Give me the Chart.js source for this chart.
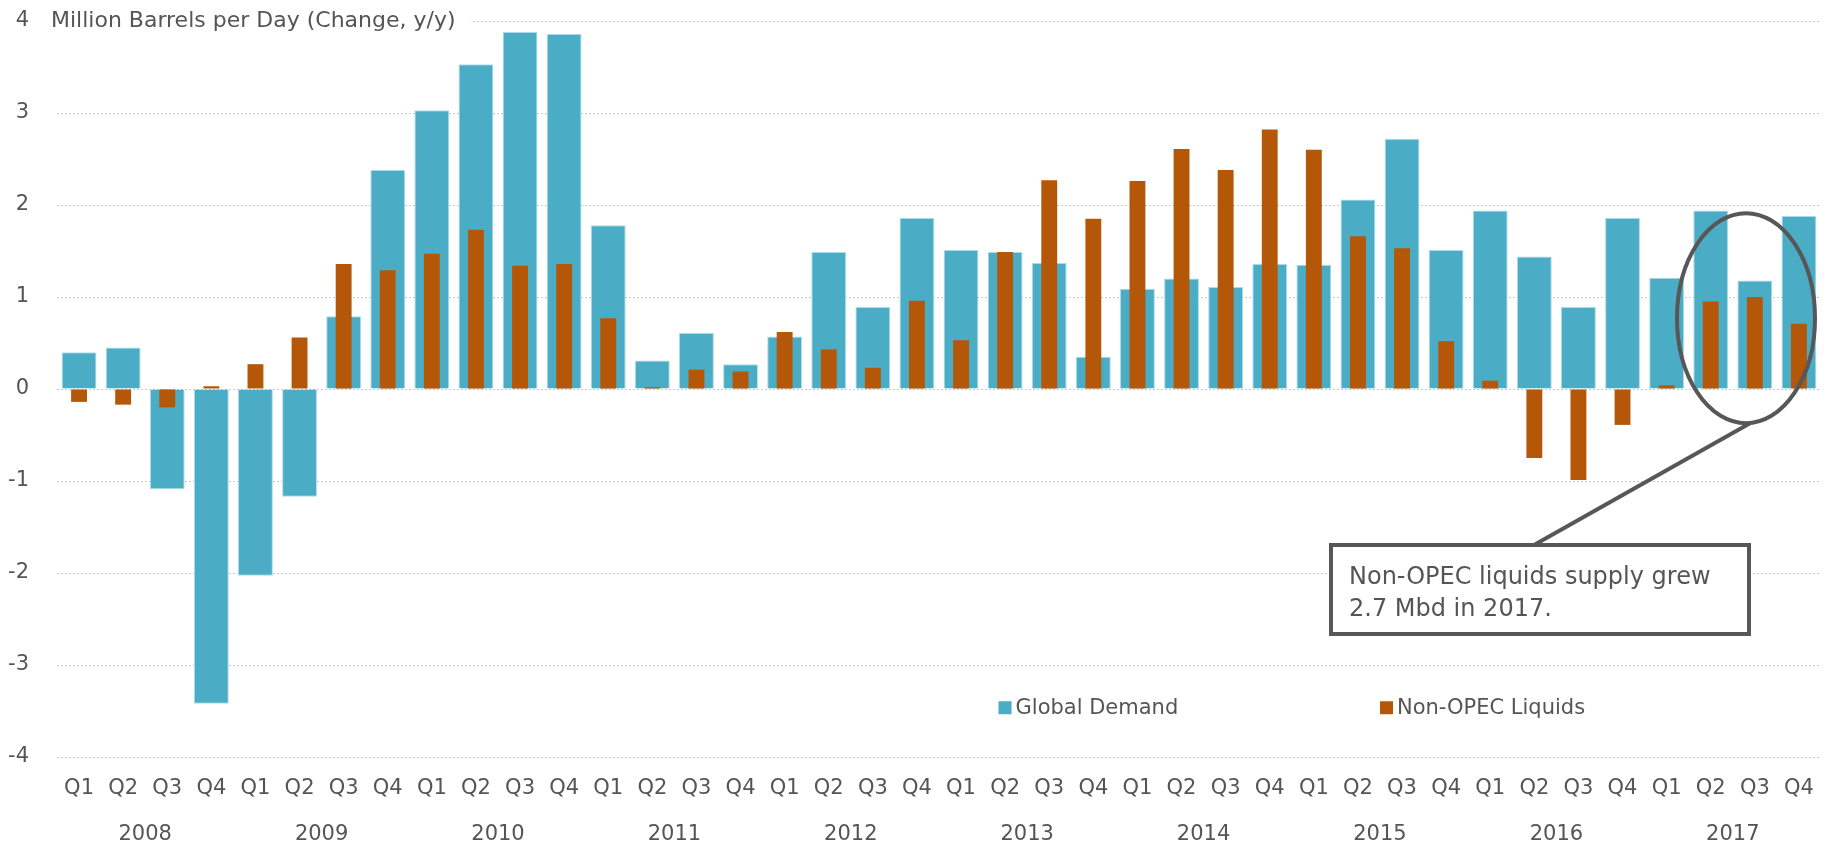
<!DOCTYPE html>
<html>
<head>
<meta charset="utf-8">
<script src="https://cdn.jsdelivr.net/npm/chart.js@4.4.1/dist/chart.umd.min.js"></script>
<style>
    html, body { margin: 0; padding: 0; background: #fff; }
    #wrap { width: 1833px; height: 845px; position: relative; }
</style>
</head>
<body>
<div id="wrap"><canvas id="chart_canva"></canvas></div>
<script>
// ----- data -----
const years = ['2008', '2009', '2010', '2011', '2012', '2013', '2014', '2015', '2016', '2017'];
const quarters = ['Q1', 'Q2', 'Q3', 'Q4'];
const quarter_labels = years.flatMap(y => quarters);

const global_demand = [
    0.40, 0.45, -1.09, -3.42,
    -2.03, -1.17, 0.79, 2.38,
    3.03, 3.53, 3.88, 3.86,
    1.78, 0.31, 0.61, 0.27,
    0.57, 1.49, 0.89, 1.86,
    1.51, 1.49, 1.37, 0.35,
    1.09, 1.20, 1.11, 1.36,
    1.35, 2.06, 2.72, 1.51,
    1.94, 1.44, 0.89, 1.86,
    1.21, 1.94, 1.18, 1.88
];
const non_opec = [
    -0.14, -0.17, -0.20, 0.03,
    0.27, 0.56, 1.36, 1.29,
    1.47, 1.73, 1.34, 1.36,
    0.77, 0.02, 0.21, 0.19,
    0.62, 0.43, 0.23, 0.96,
    0.53, 1.49, 2.27, 1.85,
    2.26, 2.61, 2.38, 2.82,
    2.60, 1.66, 1.53, 0.52,
    0.09, -0.75, -0.99, -0.39,
    0.04, 0.95, 1.00, 0.71
];

const axis_title = 'Million Barrels per Day (Change, y/y)';
const note_lines = ['Non-OPEC liquids supply grew', '2.7 Mbd in 2017.'];

const blue = 'rgb(75, 172, 198)';
const orange = 'rgb(181, 87, 8)';
const text_grey = '#555555';
const font_family = '"DejaVu Sans", sans-serif';

// ----- extras drawn on top: axis title, legend, callout -----
const extras = {
    id: 'extras',
    afterDraw(chart) {
        const ctx = chart.ctx;
        const x = chart.scales.x;
        const y = chart.scales.y;
        ctx.save();

        // axis title next to the "4" tick
        ctx.font = '22px ' + font_family;
        ctx.textBaseline = 'middle';
        ctx.textAlign = 'left';
        const tw = ctx.measureText(axis_title).width;
        ctx.fillStyle = '#fff';
        ctx.fillRect(46, y.getPixelForValue(4) - 14, tw + 20, 28);
        ctx.fillStyle = text_grey;
        ctx.fillText(axis_title, 51, y.getPixelForValue(4));

        // legend inside the plot
        const ly = y.getPixelForValue(-3.47);
        const items = [
            { label: 'Global Demand', color: blue, at: 20.85 },
            { label: 'Non-OPEC Liquids', color: orange, at: 29.5 }
        ];
        ctx.font = '21px ' + font_family;
        items.forEach(it => {
            const lx = x.getPixelForValue(it.at);
            ctx.fillStyle = it.color;
            ctx.fillRect(lx, ly - 7, 13, 13);
            ctx.fillStyle = text_grey;
            ctx.fillText(it.label, lx + 17, ly);
        });

        // ellipse round 2017 Q2-Q4
        const cx = x.getPixelForValue(37.8);
        const cy = y.getPixelForValue(0.77);
        const rx = 69, ry = 105;
        ctx.strokeStyle = '#575757';
        ctx.lineWidth = 4;
        ctx.beginPath();
        ctx.ellipse(cx, cy, rx, ry, 0, 0, Math.PI * 2);
        ctx.stroke();

        // pointer and box
        const bx = 1331, by = 545, bw = 418, bh = 89;
        ctx.beginPath();
        ctx.moveTo(cx + 4, cy + ry);
        ctx.lineTo(1534, by);
        ctx.stroke();
        ctx.fillStyle = '#fff';
        ctx.fillRect(bx, by, bw, bh);
        ctx.strokeRect(bx, by, bw, bh);

        ctx.fillStyle = text_grey;
        ctx.font = '24px ' + font_family;
        ctx.textBaseline = 'alphabetic';
        ctx.fillText(note_lines[0], 1349, 584);
        ctx.fillText(note_lines[1], 1349, 616);

        ctx.restore();
    }
};

const data_chart = {
    labels: quarter_labels,
    datasets: [{
        label: 'Global Demand',
        data: global_demand,
        backgroundColor: blue,
        borderColor: 'rgba(170, 220, 232, 1)',
        borderWidth: 1,
        barPercentage: 0.79,
        categoryPercentage: 1,
        grouped: false,
        order: 2
    }, {
        label: 'Non-OPEC Liquids',
        data: non_opec,
        backgroundColor: orange,
        borderWidth: 0,
        barPercentage: 0.36,
        categoryPercentage: 1,
        grouped: false,
        order: 1
    }]
};

const config_chart = {
    type: 'bar',
    data: data_chart,
    options: {
        responsive: true,
        maintainAspectRatio: false,
        animation: false,
        layout: {
            padding: { top: 21, right: 10, left: 0, bottom: 0 }
        },
        plugins: {
            legend: { display: false },
            tooltip: { enabled: false }
        },
        scales: {
            x: {
                type: 'category',
                offset: true,
                grid: { display: false, drawTicks: false },
                border: { display: false },
                ticks: {
                    color: text_grey,
                    font: { family: font_family, size: 21 },
                    padding: 19,
                    maxRotation: 0,
                    autoSkip: false
                },
                afterFit: scale => { scale.height = 48; }
            },
            x2: {
                type: 'category',
                position: 'bottom',
                labels: years,
                offset: true,
                grid: { display: false, drawTicks: false },
                border: { display: false },
                ticks: {
                    color: text_grey,
                    font: { family: font_family, size: 21 },
                    padding: 17,
                    maxRotation: 0,
                    autoSkip: false
                },
                afterFit: scale => { scale.height = 40; }
            },
            y: {
                min: -4,
                max: 4,
                ticks: {
                    stepSize: 1,
                    color: text_grey,
                    font: { family: font_family, size: 21 },
                    padding: 28
                },
                grid: {
                    color: '#c9c9c9',
                    lineWidth: 1,
                    drawTicks: false
                },
                border: { display: false, dash: [2, 2] },
                afterFit: scale => {
                    scale.width = 57;
                    scale.paddingTop = 0;
                    scale.paddingBottom = 0;
                }
            }
        }
    },
    plugins: [extras]
};

var chart = new Chart(
    document.getElementById('chart_canva'),
    config_chart
);
</script>
</body>
</html>
